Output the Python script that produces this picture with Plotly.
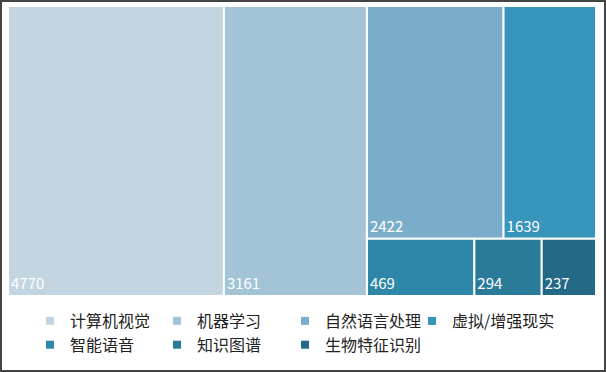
import plotly.graph_objects as go

labels = ["计算机视觉", "机器学习", "自然语言处理", "虚拟/增强现实", "智能语音", "知识图谱", "生物特征识别"]
values = [4770, 3161, 2422, 1639, 469, 294, 237]
colors = ["#c3d5e0", "#a3c3d6", "#7aadc9", "#3794bb", "#2e87a8", "#2a7a99", "#236884"]

# layout grouping (invisible helper nodes so the tiles are arranged like the reference)
group_ids = ["g_rest", "g_top", "g_bottom"]
group_parents = ["", "g_rest", "g_rest"]
leaf_parents = ["", "", "g_top", "g_top", "g_bottom", "g_bottom", "g_bottom"]

ids = labels + group_ids
names = labels + ["", "", ""]
parents = leaf_parents + group_parents
vals = values + [0, 0, 0]
cols = colors + ["white"] * 3
tmpl = ["%{value}"] * len(labels) + [""] * 3

W, H = 606, 372
fig = go.Figure()
fig.add_trace(go.Treemap(
    ids=ids,
    labels=names,
    parents=parents,
    values=vals,
    branchvalues="remainder",
    sort=False,
    marker=dict(colors=cols, line=dict(color="white", width=2), pad=dict(t=0, l=0, r=0, b=0)),
    texttemplate=tmpl,
    textposition="bottom left",
    textfont=dict(color="white", size=15, family="Noto Sans CJK SC"),
    tiling=dict(packing="slice-dice", pad=0),
    pathbar=dict(visible=False),
    hoverinfo="label+value",
    domain=dict(x=[8 / W, 596 / W], y=[1 - 296 / H, 1 - 6 / H]),
))

# legend columns (4 per row, 2 rows)
legend_keys = ["legend", "legend2", "legend3", "legend4"]
for i, (lab, col) in enumerate(zip(labels, colors)):
    fig.add_trace(go.Scatter(
        x=[None], y=[None], mode="markers", name=lab,
        marker=dict(symbol="square", size=8, color=col),
        showlegend=True, legend=legend_keys[i % 4],
    ))

col_x = [30, 157, 285, 412]
leg_common = dict(orientation="v", xanchor="left", y=1 - 304 / H, yanchor="top",
                  font=dict(size=16, color="#222", family="Noto Sans CJK SC"),
                  bgcolor="rgba(0,0,0,0)", itemwidth=30, tracegroupgap=0)

fig.update_layout(
    width=W, height=H,
    margin=dict(l=0, r=0, t=0, b=0),
    paper_bgcolor="white", plot_bgcolor="white",
    font=dict(family="Noto Sans CJK SC", size=16, color="#222"),
    xaxis=dict(visible=False), yaxis=dict(visible=False),
    legend=dict(x=col_x[0] / W, **leg_common),
    legend2=dict(x=col_x[1] / W, **leg_common),
    legend3=dict(x=col_x[2] / W, **leg_common),
    legend4=dict(x=col_x[3] / W, **leg_common),
    shapes=[dict(type="rect", xref="paper", yref="paper", x0=0, x1=1, y0=0, y1=1,
                 line=dict(color="#444", width=4), fillcolor="rgba(0,0,0,0)")],
)
fig.write_html("out.html", config={"displayModeBar": False},
               post_script="document.body.style.margin='0';")
